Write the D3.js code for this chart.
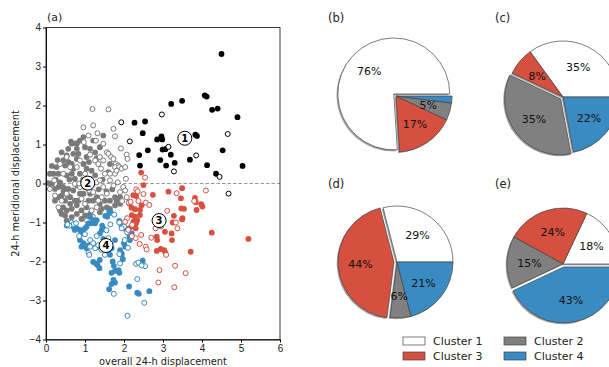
<!DOCTYPE html>
<html>
<head>
<meta charset="utf-8">
<script src="https://cdn.jsdelivr.net/npm/d3@7"></script>
<style>
  body { margin: 0; background: #fff; }
  svg { font-family: "DejaVu Sans", sans-serif; }
</style>
</head>
<body>
<svg id="chart" width="609" height="367"></svg>
<script>
// ---- data ----
const xTicks = [0, 1, 2, 3, 4, 5, 6];
const yTicks = [-4, -3, -2, -1, 0, 1, 2, 3, 4];

// cluster 1 (black)
const c1Filled = [
  [4.50, 3.32], [3.49, 2.12], [4.07, 2.26], [4.12, 2.23], [3.21, 2.04], [4.26, 1.89], [4.40, 1.92],
  [4.91, 1.70], [2.27, 1.56], [2.54, 1.59], [2.48, 1.29], [2.85, 1.13], [2.96, 1.21], [2.98, 1.13],
  [3.83, 1.25], [3.87, 1.22], [2.61, 0.85], [2.39, 0.73], [2.99, 0.87], [3.06, 0.88], [3.20, 0.74],
  [2.93, 0.60], [3.08, 0.46], [3.30, 0.53], [3.69, 0.61], [4.53, 0.85], [4.13, 0.47], [4.36, 0.25],
  [5.04, 0.45], [2.41, 0.46]
];
const c1Open = [
  [2.97, 1.77], [1.93, 1.57], [2.15, 1.08], [3.14, 0.94], [3.85, 0.72], [3.28, 0.31], [4.66, 1.27],
  [4.45, 0.17], [4.68, -0.26]
];

// cluster 2 (grey)
const c2Filled = [
  [1.47, 1.23], [0.53, 0.72], [0.70, 0.76], [0.83, 0.76], [0.79, 1.02], [0.87, 1.10], [1.00, 0.93],
  [1.13, 0.89], [1.21, 1.10], [1.04, 0.68], [0.96, 0.50], [0.79, 0.63], [0.66, 0.50], [0.49, 0.46],
  [0.27, 0.42], [0.19, 0.25], [0.15, -0.01], [0.23, -0.14], [0.36, 0.03], [0.53, 0.21], [0.66, 0.25],
  [0.74, 0.12], [0.87, 0.25], [1.04, 0.38], [1.17, 0.33], [1.26, 0.21], [1.13, 0.12], [1.00, -0.09],
  [0.87, -0.26], [0.70, -0.18], [0.57, -0.14], [0.44, -0.09], [0.40, -0.31], [0.49, -0.44], [0.62, -0.52],
  [0.53, -0.69], [0.66, -0.65], [0.79, -0.56], [0.91, -0.69], [1.04, -0.61], [1.21, -0.44], [1.38, -0.52],
  [1.51, -0.44], [1.64, -0.44], [1.77, -0.35], [1.81, -0.44], [1.90, -0.35], [1.56, -0.61], [1.43, -0.65],
  [1.30, -0.35], [1.13, -0.26], [1.09, -0.44], [0.96, -0.26], [0.83, -0.44], [0.44, -0.61], [0.49, -0.82],
  [0.40, -0.78], [0.53, -0.95], [0.66, -0.86], [0.79, -0.78], [0.91, -0.91], [0.06, 0.01], [0.10, 0.25],
  [0.32, 0.25], [1.64, 0.50], [1.60, 0.29], [1.38, 0.93], [1.26, 0.80], [0.79, 0.89], [0.57, 0.89],
  [0.66, 1.02], [0.96, 1.19], [0.32, -0.09], [0.23, -0.44], [0.32, -0.35], [0.36, -0.69], [0.62, -0.35],
  [0.74, -0.44], [1.00, -0.82], [1.13, -0.78], [1.38, -0.74], [1.64, -0.65], [1.77, -0.56], [1.90, -0.52],
  [0.45, 0.60], [0.60, 0.10], [1.20, 0.00], [1.45, 0.10], [1.55, -0.20], [1.35, -0.15], [0.95, 0.10],
  [0.80, -0.05], [0.70, 0.38], [1.10, 0.55], [1.30, 0.65], [0.55, -0.30], [0.25, 0.10], [1.70, -0.15],
  [0.64, 1.07], [0.77, 1.03], [0.40, 0.80], [0.30, 0.60], [0.58, 0.55], [0.15, 0.45], [0.45, -0.20]
];
const c2Open = [
  [1.19, 1.91], [1.60, 1.90], [0.96, 1.44], [1.21, 1.49], [1.73, 1.40], [1.77, 1.21], [1.09, 1.23],
  [1.32, 1.29], [1.28, 1.10], [0.97, 1.06], [1.47, 1.02], [1.56, 0.80], [1.60, 0.76], [1.67, 0.68],
  [1.73, 0.63], [1.79, 0.50], [1.85, 0.46], [1.77, 0.42], [1.88, 0.42], [1.38, 0.68], [1.47, 0.59],
  [1.13, 0.74], [1.26, 0.59], [1.34, 0.50], [1.41, 0.38], [1.51, 0.25], [1.64, 0.25], [1.77, 0.25],
  [1.81, 0.33], [1.94, 0.38], [2.03, 0.42], [2.07, 0.74], [2.09, 0.63], [2.05, 0.12], [1.98, -0.09],
  [1.90, -0.22], [2.03, -0.18], [2.07, -0.35], [1.84, 0.03], [1.73, -0.05], [1.64, 0.08], [1.56, -0.26],
  [1.47, -0.09], [1.43, -0.35], [1.34, -0.44], [1.30, -0.61], [1.17, -0.69], [1.00, -0.52], [0.91, -0.39],
  [0.87, -0.09], [0.74, -0.01], [0.53, -0.26], [0.40, -0.44], [0.32, -0.61], [0.23, -0.31], [0.10, -0.14],
  [0.21, 0.08], [0.36, 0.50], [0.53, 0.68], [0.62, 0.42], [0.44, 0.25], [0.79, 0.42], [0.87, 0.59],
  [1.00, 0.25], [1.04, 0.03], [1.11, -0.18], [1.21, -0.22], [1.30, 0.03], [1.38, 0.08], [1.92, 0.90],
  [1.95, -0.45], [1.20, -0.85], [1.05, -0.95], [0.85, 0.00]
];

// cluster 3 (red)
const c3Filled = [
  [2.44, 0.28], [2.50, -0.04], [2.24, -0.30], [2.31, -0.32], [2.74, -0.29], [3.14, -0.21], [3.49, -0.12],
  [3.46, -0.38], [3.82, -0.37], [3.84, -0.48], [3.98, -0.53], [4.01, -0.59], [3.86, -0.68], [3.47, -0.64],
  [3.54, -0.65], [3.49, -0.92], [3.28, -0.83], [3.25, -1.00], [3.05, -1.24], [3.22, -1.28], [3.23, -1.45],
  [2.84, -1.36], [2.85, -1.45], [2.84, -1.73], [2.94, -1.68], [3.03, -1.71], [3.06, -1.77], [3.71, -1.75],
  [4.25, -1.26], [5.19, -1.42], [2.19, -0.62], [2.28, -0.66], [2.41, -0.68], [2.45, -0.56], [2.20, -0.81],
  [2.28, -0.85], [2.34, -0.94], [2.24, -0.98], [2.31, -1.02], [2.41, -0.81], [2.14, -0.51], [2.30, -1.15],
  [2.20, -1.10], [3.50, -0.89]
];
const c3Open = [
  [2.54, 0.15], [2.31, -0.15], [2.50, -0.27], [2.12, -0.49], [2.17, -0.47], [2.37, -0.45], [2.56, -0.49],
  [3.35, -0.25], [3.80, -0.45], [4.10, -0.18], [3.11, -0.70], [3.33, -1.00], [3.37, -1.15], [2.81, -1.15],
  [2.70, -1.39], [2.56, -1.62], [2.58, -1.69], [2.44, -1.32], [3.08, -1.83], [2.91, -2.22], [3.31, -2.11],
  [3.58, -2.30], [2.88, -2.54], [3.29, -2.66], [2.08, -0.89], [2.03, -0.98], [2.21, -1.06], [2.11, -1.19],
  [2.65, -0.55], [2.35, -0.20], [3.00, -0.95], [2.95, -1.10], [2.30, -1.40], [2.40, -1.55], [2.20, -1.35]
];

// cluster 4 (blue)
const c4Filled = [
  [1.62, -0.72], [1.66, -0.75], [1.52, -0.83], [1.57, -0.85], [1.13, -0.85], [1.21, -0.94], [1.17, -1.02],
  [1.26, -1.02], [1.30, -0.94], [1.09, -1.02], [1.04, -1.11], [1.00, -1.15], [0.91, -1.24], [0.96, -1.28],
  [0.87, -1.19], [0.79, -1.15], [0.70, -1.11], [0.74, -1.19], [0.87, -1.45], [0.96, -1.53], [0.91, -1.62],
  [1.04, -1.66], [1.44, -1.08], [1.47, -1.15], [1.43, -1.19], [1.38, -1.28], [1.88, -0.96], [1.94, -1.09],
  [2.05, -1.17], [2.13, -1.15], [2.20, -1.28], [2.14, -1.36], [2.15, -1.45], [2.00, -1.53], [2.03, -1.62],
  [1.90, -1.71], [1.94, -1.79], [1.77, -1.45], [1.64, -1.58], [1.68, -1.66], [1.56, -1.71], [1.60, -1.76],
  [1.64, -1.83], [1.21, -2.01], [1.28, -2.05], [1.38, -1.96], [1.32, -2.09], [1.37, -2.17], [1.71, -2.00],
  [1.68, -2.29], [1.77, -2.24], [1.83, -2.24], [1.88, -2.29], [1.73, -2.47], [1.77, -2.54], [1.68, -2.58],
  [1.62, -2.71], [2.13, -2.64], [2.34, -2.80], [2.38, -2.83], [2.65, -2.76], [2.48, -1.98], [1.94, -1.83],
  [1.97, -1.94], [1.74, -2.11], [1.86, -2.22], [0.53, -1.08], [1.09, -1.59], [1.38, -1.63], [1.47, -1.42]
];
const c4Open = [
  [0.65, -1.00], [0.70, -1.05], [0.60, -1.08], [0.77, -1.02], [0.55, -1.05], [1.13, -1.45], [1.21, -1.53],
  [1.09, -1.78], [1.13, -1.62], [1.26, -1.66], [1.34, -1.58], [1.42, -1.70], [1.75, -0.80], [1.88, -1.00],
  [2.00, -1.10], [1.94, -1.15], [1.65, -1.05], [2.08, -1.25], [2.31, -2.06], [2.37, -2.03], [2.54, -2.12],
  [2.45, -2.10], [2.34, -2.45], [1.74, -2.83], [2.52, -3.06], [2.09, -3.39], [1.90, -2.05], [1.88, -1.81],
  [1.51, -1.83], [1.11, -1.83], [1.00, -1.30], [0.85, -1.35], [1.30, -1.35], [1.55, -1.20], [1.60, -1.40],
  [1.45, -1.55], [2.02, -1.45], [2.10, -1.65]
];

// circled cluster numbers
const clusterTags = [["1", 3.56, 1.16], ["2", 1.07, 0.01], ["3", 2.90, -0.95], ["4", 1.54, -1.59]];

// pies (wedge order: Cluster 1, Cluster 3, Cluster 2, Cluster 4)
const pieNames = ["(b)", "(c)", "(d)", "(e)"];
const pieB = [76, 17, 5, 2];
const pieC = [35, 8, 35, 22];
const pieD = [29, 44, 6, 21];
const pieE = [18, 24, 15, 43];
const wedgeClusters = ["Cluster 1", "Cluster 3", "Cluster 2", "Cluster 4"];
const highlighted = ["Cluster 1", "Cluster 2", "Cluster 3", "Cluster 4"];
const legendNames = ["Cluster 1", "Cluster 2", "Cluster 3", "Cluster 4"];

// ---- style ----
const colors = {
  "Cluster 1": "#000000",
  "Cluster 2": "#7a7a7a",
  "Cluster 3": "#d9503f",
  "Cluster 4": "#378bc1"
};
const pieColors = {
  "Cluster 1": "#ffffff",
  "Cluster 2": "#808080",
  "Cluster 3": "#d6503f",
  "Cluster 4": "#3a8bc2"
};
const minus = d => d < 0 ? "\u2212" + Math.abs(d) : String(d);

const svg = d3.select("#chart");

// ---- scatter panel (a) ----
const x = d3.scaleLinear().domain([0, 6]).range([46, 280]);
const y = d3.scaleLinear().domain([-4, 4]).range([339.5, 27.5]);

svg.append("line")
  .attr("x1", x(0)).attr("x2", x(6))
  .attr("y1", y(0)).attr("y2", y(0))
  .attr("stroke", "#999").attr("stroke-width", 1)
  .attr("stroke-dasharray", "3.5,2");

const groups = [
  ["Cluster 2", c2Filled, c2Open],
  ["Cluster 4", c4Filled, c4Open],
  ["Cluster 3", c3Filled, c3Open],
  ["Cluster 1", c1Filled, c1Open]
];

groups.forEach(([name, filled, open]) => {
  svg.append("g").selectAll("circle")
    .data(filled).enter()
    .append("circle")
    .attr("cx", d => x(d[0])).attr("cy", d => y(d[1]))
    .attr("r", 2.9)
    .attr("fill", colors[name]);

  svg.append("g").selectAll("circle")
    .data(open).enter()
    .append("circle")
    .attr("cx", d => x(d[0])).attr("cy", d => y(d[1]))
    .attr("r", 2.5)
    .attr("fill", "#fff")
    .attr("stroke", colors[name])
    .attr("stroke-width", 1);
});

const tags = svg.append("g").selectAll("g")
  .data(clusterTags).enter()
  .append("g")
  .attr("transform", d => "translate(" + x(d[1]) + "," + y(d[2]) + ")");
tags.append("circle").attr("r", 7).attr("fill", "#fff").attr("stroke", "#000").attr("stroke-width", 1);
tags.append("text").text(d => d[0])
  .attr("text-anchor", "middle").attr("dy", "0.36em")
  .attr("font-size", "10px").attr("font-weight", "bold");

// axes
svg.append("g")
  .attr("transform", "translate(0," + y(-4) + ")")
  .call(d3.axisBottom(x).tickValues(xTicks).tickFormat(minus).tickSize(3).tickPadding(2).tickSizeOuter(0))
  .call(g => g.selectAll("text").attr("font-size", "10px").attr("fill", "#222"));

svg.append("g")
  .attr("transform", "translate(" + x(0) + ",0)")
  .call(d3.axisLeft(y).tickValues(yTicks).tickFormat(minus).tickSize(3).tickPadding(2).tickSizeOuter(0))
  .call(g => g.selectAll("text").attr("font-size", "10px").attr("fill", "#222"));

svg.append("rect")
  .attr("x", x(0)).attr("y", y(4))
  .attr("width", x(6) - x(0)).attr("height", y(-4) - y(4))
  .attr("fill", "none").attr("stroke", "#222").attr("stroke-width", 0.9);

svg.append("text").text("(a)")
  .attr("x", 47).attr("y", 21).attr("font-size", "11px").attr("fill", "#222");

svg.append("text").text("overall 24-h displacement")
  .attr("x", (x(0) + x(6)) / 2).attr("y", 365)
  .attr("text-anchor", "middle").attr("font-size", "9.8px").attr("fill", "#222");

svg.append("text").text("24-h meridional displacement")
  .attr("transform", "translate(19," + y(0) + ") rotate(-90)")
  .attr("text-anchor", "middle").attr("font-size", "9.8px").attr("fill", "#222");

// ---- pies ----
const R = 56;
const pieCenters = [[396, 96], [563, 97], [397, 262], [563, 264]];
const pieTitlePos = [[328, 22], [495, 22], [328, 188], [495, 188]];
const pieValues = [pieB, pieC, pieD, pieE];

const pie = d3.pie().sort(null)
  .startAngle(Math.PI / 2).endAngle(Math.PI / 2 - 2 * Math.PI);
const arc = d3.arc().innerRadius(0).outerRadius(R);
const labelArc = d3.arc().innerRadius(R * 0.6).outerRadius(R * 0.6);

pieValues.forEach((vals, i) => {
  const data = pie(vals).map((a, j) => Object.assign(a, { name: wedgeClusters[j] }));

  const g = svg.append("g")
    .attr("transform", "translate(" + pieCenters[i][0] + "," + pieCenters[i][1] + ")");

  const shift = d => {
    if (d.name !== highlighted[i]) return [0, 0];
    const mid = (d.startAngle + d.endAngle) / 2;
    return [Math.sin(mid) * 3, -Math.cos(mid) * 3];
  };

  // shadow
  g.selectAll("path.shadow")
    .data(data).enter()
    .append("path")
    .attr("class", "shadow")
    .attr("d", arc)
    .attr("transform", d => "translate(" + (shift(d)[0] - 1.3) + "," + (shift(d)[1] + 1.3) + ")")
    .attr("fill", "#555").attr("opacity", 0.55);

  g.selectAll("path.wedge")
    .data(data).enter()
    .append("path")
    .attr("class", "wedge")
    .attr("d", arc)
    .attr("transform", d => "translate(" + shift(d)[0] + "," + shift(d)[1] + ")")
    .attr("fill", d => pieColors[d.name])
    .attr("stroke", "#444").attr("stroke-width", 0.7);

  g.selectAll("text")
    .data(data.filter(d => d.value >= 3)).enter()
    .append("text")
    .text(d => d.value + "%")
    .attr("transform", d => {
      const c = labelArc.centroid(d);
      return "translate(" + (c[0] + shift(d)[0]) + "," + (c[1] + shift(d)[1]) + ")";
    })
    .attr("text-anchor", "middle").attr("dy", "0.36em")
    .attr("font-size", "11px").attr("fill", "#111");

  svg.append("text").text(pieNames[i])
    .attr("x", pieTitlePos[i][0]).attr("y", pieTitlePos[i][1])
    .attr("font-size", "11.5px").attr("fill", "#222");
});

// ---- legend ----
const legend = svg.append("g").selectAll("g")
  .data(legendNames).enter()
  .append("g")
  .attr("transform", (d, i) => "translate(" + (i % 2 === 0 ? 403 : 504) + "," + (i < 2 ? 337 : 352) + ")");
legend.append("rect")
  .attr("width", 22).attr("height", 8)
  .attr("fill", d => pieColors[d]).attr("stroke", "#444").attr("stroke-width", 0.7);
legend.append("text").text(d => d)
  .attr("x", 30).attr("y", 4).attr("dy", "0.36em")
  .attr("font-size", "11px").attr("fill", "#222");
</script>
</body>
</html>
